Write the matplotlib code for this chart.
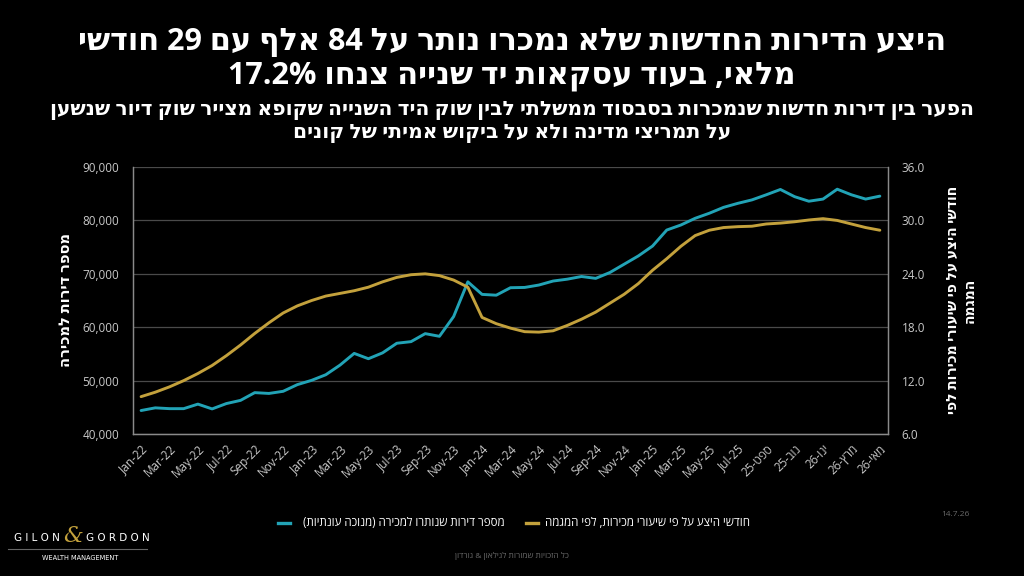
import re
import matplotlib
matplotlib.use("Agg")
import matplotlib.pyplot as plt
from matplotlib.ticker import FuncFormatter, FixedLocator
from matplotlib.lines import Line2D

# ---------------- data ----------------
en_months = ["Jan", "Feb", "Mar", "Apr", "May", "Jun", "Jul", "Aug", "Sep", "Oct", "Nov", "Dec"]
he_months = ["ינו", "פבר", "מרץ", "אפר", "מאי", "יונ", "יול", "אוג", "ספט", "אוק", "נוב", "דצמ"]

# Jan-22 .. May-26 (53 months); from Sep-25 the source uses Hebrew month names
month_labels = []
for k in range(53):
    y = 22 + k // 12
    m = k % 12
    if k < 44:
        month_labels.append(f"{en_months[m]}-{y}")
    else:
        month_labels.append(f"{he_months[m]}-{y}")

unsold_units = [44400, 44900, 44750, 44750, 45600, 44700, 45700, 46300, 47750, 47600,
                48000, 49250, 50050, 51100, 52900, 55100, 54100, 55200, 57000, 57300,
                58800, 58300, 62000, 68500, 66150, 66000, 67400, 67450, 67900, 68650,
                69000, 69500, 69150, 70250, 71800, 73350, 75200, 78200, 79150, 80400,
                81350, 82450, 83200, 83850, 84800, 85800, 84450, 83600, 84000, 85850,
                84800, 84000, 84550]

supply_months = [10.2, 10.7, 11.3, 12.0, 12.8, 13.7, 14.8, 16.0, 17.3, 18.5,
                 19.6, 20.4, 21.0, 21.5, 21.8, 22.1, 22.5, 23.1, 23.6, 23.9,
                 24.0, 23.8, 23.3, 22.5, 19.1, 18.4, 17.9, 17.5, 17.45, 17.6,
                 18.2, 18.9, 19.7, 20.7, 21.7, 22.9, 24.4, 25.7, 27.1, 28.3,
                 28.9, 29.2, 29.3, 29.35, 29.6, 29.7, 29.85, 30.05, 30.2, 30.0,
                 29.6, 29.2, 28.9]

left_ticks = [40000, 50000, 60000, 70000, 80000, 90000]
right_ticks = [6.0, 12.0, 18.0, 24.0, 30.0, 36.0]

title_lines = ["היצע הדירות החדשות שלא נמכרו נותר על 84 אלף עם 29 חודשי",
               "מלאי, בעוד עסקאות יד שנייה צנחו 17.2%"]
subtitle_lines = ["הפער בין דירות חדשות שנמכרות בסבסוד ממשלתי לבין שוק היד השנייה שקופא מצייר שוק דיור שנשען",
                  "על תמריצי מדינה ולא על ביקוש אמיתי של קונים"]
left_label = "מספר דירות למכירה"
right_label = ["חודשי היצע על פי שיעורי מכירות לפי", "המגמה"]
legend_units = "מספר דירות שנותרו למכירה (מנוכה עונתיות)"
legend_supply = "חודשי היצע על פי שיעורי מכירות, לפי המגמה"
footer = "כל הזכויות שמורות לגילאון & גורדון"
date_text = "14.7.26"

# ---------------- helpers ----------------
MIRROR = {"(": ")", ")": "(", "[": "]", "]": "["}
LTR_RUN = re.compile(r"[%0-9A-Za-z][0-9A-Za-z.,%]*[0-9A-Za-z]|[0-9A-Za-z]")


def vis(s):
    """Convert logical-order RTL text to visual order for matplotlib."""
    r = "".join(MIRROR.get(c, c) for c in s[::-1])
    return LTR_RUN.sub(lambda m: m.group(0)[::-1], r)


def vis_label(s):
    if any("\u0590" <= c <= "\u05ff" for c in s):
        return vis(s)
    return s


TEAL = "#22a3b6"
GOLD = "#c3a13c"
BG = "#000000"
FAM = ["Open Sans", "DejaVu Sans"]
plt.rcParams["font.family"] = FAM

fig = plt.figure(figsize=(10.24, 5.76), dpi=100, facecolor=BG)
ax = fig.add_axes([0.130, 0.2465, 0.737, 0.4635], facecolor=BG)
ax2 = ax.twinx()

x = list(range(len(unsold_units)))
ax.plot(x, unsold_units, color=TEAL, lw=2.1, solid_capstyle="round",
        solid_joinstyle="round", zorder=3)
ax2.plot(x, supply_months, color=GOLD, lw=2.1, solid_capstyle="round",
         solid_joinstyle="round", zorder=3)

ax.set_xlim(-0.56, len(x) - 1 + 0.56)
ax.set_ylim(40000, 90000)
ax2.set_ylim(6, 36)
ax.yaxis.set_major_locator(FixedLocator(left_ticks))
ax2.yaxis.set_major_locator(FixedLocator(right_ticks))
ax.yaxis.set_major_formatter(FuncFormatter(lambda v, p: f"{int(v):,}"))
ax2.yaxis.set_major_formatter(FuncFormatter(lambda v, p: f"{v:.1f}"))

tick_pos = x[::2]
ax.set_xticks(tick_pos)
ax.set_xticklabels([vis_label(month_labels[i]) for i in tick_pos], rotation=45,
                   ha="right", rotation_mode="anchor", color="#c8c8c8", fontsize=8.5)
ax.tick_params(axis="x", length=0, pad=6)
ax.tick_params(axis="y", length=0, pad=10, colors="#c8c8c8", labelsize=8.5)
ax2.tick_params(axis="y", length=0, pad=10, colors="#c8c8c8", labelsize=8.5)

ax.grid(axis="y", color="#4a4a4a", lw=0.9)
ax.set_axisbelow(True)
for a in (ax, ax2):
    for s in a.spines.values():
        s.set_color("#8a8a8a")
        s.set_linewidth(0.9)
    a.spines["top"].set_visible(False)

# axis titles
fig.text(0.064, 0.479, vis(left_label), rotation=90, ha="center", va="center",
         color="white", fontsize=10.5, fontweight="bold")
fig.text(0.939, 0.479, vis(right_label[0]) + "\n" + vis(right_label[1]), rotation=90,
         ha="center", va="center", color="white", fontsize=10, fontweight="bold",
         multialignment="center", linespacing=1.25)

# titles
fig.text(0.5, 1 - 42 / 576, vis(title_lines[0]), ha="center", va="center", color="white",
         fontsize=22, fontweight="bold")
fig.text(0.5, 1 - 76 / 576, vis(title_lines[1]), ha="center", va="center", color="white",
         fontsize=22, fontweight="bold")
fig.text(0.5, 1 - 110 / 576, vis(subtitle_lines[0]), ha="center", va="center", color="white",
         fontsize=14.6, fontweight="bold")
fig.text(0.5, 1 - 133 / 576, vis(subtitle_lines[1]), ha="center", va="center", color="white",
         fontsize=14.6, fontweight="bold")

# legend (RTL: marker to the right of text)
leg_y = 1 - 523 / 576
fig.add_artist(Line2D([278 / 1024, 290 / 1024], [leg_y, leg_y], color=TEAL, lw=2.4,
                      transform=fig.transFigure))
fig.text(505 / 1024, leg_y, vis(legend_units), ha="right", va="center", color="white",
         fontsize=8.3)
fig.add_artist(Line2D([526 / 1024, 538 / 1024], [leg_y, leg_y], color=GOLD, lw=2.4,
                      transform=fig.transFigure))
fig.text(750 / 1024, leg_y, vis(legend_supply), ha="right", va="center", color="white",
         fontsize=8.3)

fig.text(0.5, 1 - 556 / 576, vis(footer), ha="center", va="center", color="#6a6a6a", fontsize=6)
fig.text(955 / 1024, 1 - 514 / 576, date_text, ha="center", va="center", color="#6a6a6a", fontsize=6)

# logo
fig.text(37 / 1024, 1 - 538 / 576, "G I L O N", ha="center", va="center", color="white",
         fontsize=7.5, family="DejaVu Sans")
fig.text(73 / 1024, 1 - 536 / 576, "&", ha="center", va="center", color=GOLD,
         fontsize=16, family="DejaVu Serif", style="italic")
fig.text(118 / 1024, 1 - 538 / 576, "G O R D O N", ha="center", va="center", color="white",
         fontsize=7.5, family="DejaVu Sans")
fig.add_artist(Line2D([8 / 1024, 147 / 1024], [1 - 549 / 576, 1 - 549 / 576], color="#666666",
                      lw=0.8, transform=fig.transFigure))
fig.text(80 / 1024, 1 - 558 / 576, "WEALTH MANAGEMENT", ha="center", va="center", color="white",
         fontsize=4.8, family="DejaVu Sans")

fig.savefig("out.png", dpi=100, facecolor=BG)
